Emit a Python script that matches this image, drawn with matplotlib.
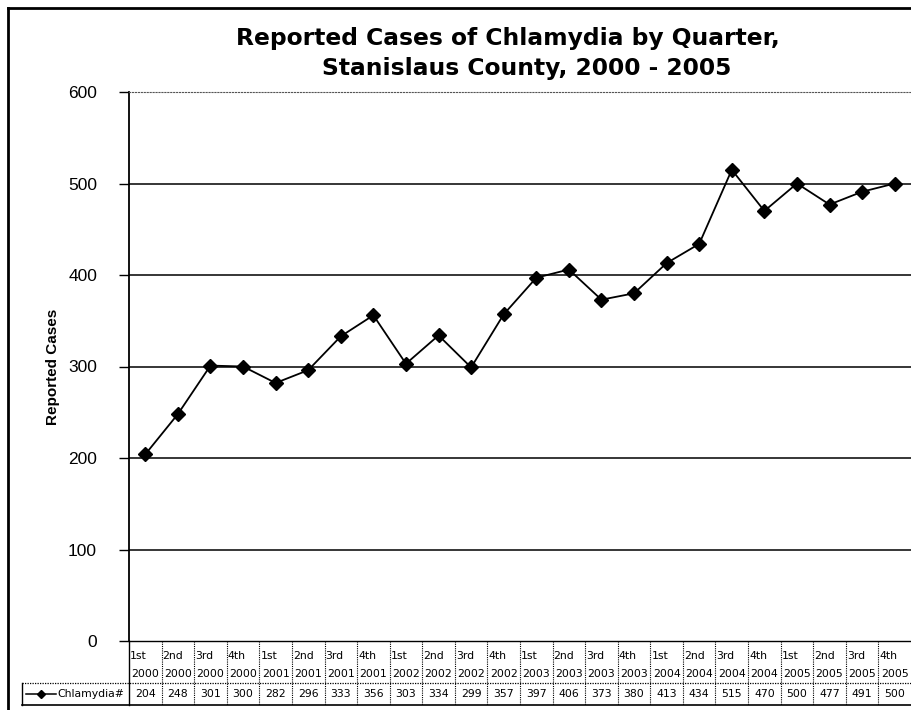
import matplotlib
matplotlib.use("Agg")
import matplotlib.pyplot as plt
import matplotlib.transforms as mtransforms
from matplotlib.lines import Line2D

quarters = ["1st", "2nd", "3rd", "4th"] * 6
years = [str(y) for y in range(2000, 2006) for _ in range(4)]
cases = [204, 248, 301, 300, 282, 296, 333, 356, 303, 334, 299, 357,
         397, 406, 373, 380, 413, 434, 515, 470, 500, 477, 491, 500]
series_name = "Chlamydia#"
title_lines = ["Reported Cases of Chlamydia by Quarter,", "Stanislaus County, 2000 - 2005"]
y_ticks = [0, 100, 200, 300, 400, 500, 600]

W, H = 911, 710
fig = plt.figure(figsize=(W / 100, H / 100), dpi=100)
fig.patch.set_facecolor("white")

# outer chart border (left and top only visible)
fig.add_artist(Line2D([8 / W, 8 / W], [0, 1 - 8 / H], color="black", lw=2))
fig.add_artist(Line2D([8 / W, 1], [1 - 8 / H, 1 - 8 / H], color="black", lw=2))

ax_left, ax_right = 129, 911
ax_top, ax_bot = 92, 641
ax = fig.add_axes([ax_left / W, 1 - ax_bot / H, (ax_right - ax_left) / W, (ax_bot - ax_top) / H])

x = list(range(len(cases)))
ax.plot(x, cases, color="black", lw=1.3, marker="D", markersize=7,
        markerfacecolor="black", markeredgecolor="black", zorder=3)

ax.set_xlim(-0.5, len(cases) - 0.5)
ax.set_ylim(0, 600)
ax.set_yticks(y_ticks)
ax.set_yticklabels([str(v) for v in y_ticks], fontsize=12.5, fontfamily="Liberation Sans")
ax.tick_params(axis="y", direction="out", length=7, width=1, pad=16, colors="black")
ax.set_xticks([])
for v in y_ticks[1:-1]:
    ax.axhline(v, color="black", lw=1.1, zorder=1)

ax.spines["right"].set_visible(False)
ax.spines["top"].set_linestyle(":")
ax.spines["top"].set_color("#555555")
ax.spines["left"].set_linewidth(1.3)
ax.spines["bottom"].set_linestyle((0, (2, 1)))
ax.spines["bottom"].set_linewidth(1.0)

ax.set_ylabel("Reported Cases", fontsize=11, fontweight="bold",
              fontfamily="Liberation Sans", labelpad=6)

# two title lines, as centred in the original
for line, cx, cy in zip(title_lines, [508, 527], [38, 68]):
    fig.text(cx / W, 1 - cy / H, line, ha="center", va="center", fontsize=16.8,
             fontweight="bold", fontfamily="DejaVu Sans")

# data table below the axis
trans = mtransforms.blended_transform_factory(ax.transData, ax.transAxes)
span = ax_bot - ax_top
def ay(py):
    return (ax_bot - py) / span

row1, row2, row3 = ay(641), ay(683), ay(705)
tfont = dict(fontsize=7.8, fontfamily="DejaVu Sans", transform=trans, clip_on=False)
for i, (q, yr, v) in enumerate(zip(quarters, years, cases)):
    ax.text(i - 0.47, ay(656), q, ha="left", va="center", **tfont)
    ax.text(i, ay(674), yr, ha="center", va="center", **tfont)
    ax.text(i, ay(694), str(v), ha="center", va="center", **tfont)
    if i > 0:
        ax.plot([i - 0.5, i - 0.5], [row1, row3], color="black", lw=0.8,
                ls=(0, (1, 1)), transform=trans, clip_on=False)
ax.plot([-0.5, -0.5], [row1, row3], color="black", lw=1, transform=trans, clip_on=False)

# horizontal lines of data row
legend_left = (22 - ax_left) / (ax_right - ax_left)
ax.plot([legend_left, 1], [row2, row2], color="black", lw=0.9, ls=(0, (1, 1)),
        transform=ax.transAxes, clip_on=False)
ax.plot([legend_left, 1], [row3, row3], color="black", lw=1.2,
        transform=ax.transAxes, clip_on=False)
ax.plot([legend_left, legend_left], [row2, row3], color="black", lw=1,
        transform=ax.transAxes, clip_on=False)

# legend key in the table
lx0 = (26 - ax_left) / (ax_right - ax_left)
lx1 = (56 - ax_left) / (ax_right - ax_left)
ax.add_artist(Line2D([lx0, lx1], [ay(694), ay(694)], color="black", lw=1.1,
                     transform=ax.transAxes, clip_on=False))
ax.add_artist(Line2D([(lx0 + lx1) / 2], [ay(694)], marker="D", markersize=4.5,
                     color="black", transform=ax.transAxes, clip_on=False))
ax.text((57 - ax_left) / (ax_right - ax_left), ay(694), series_name, ha="left",
        va="center", fontsize=7.8, fontfamily="DejaVu Sans",
        transform=ax.transAxes, clip_on=False)

fig.savefig("out.png", dpi=100)
